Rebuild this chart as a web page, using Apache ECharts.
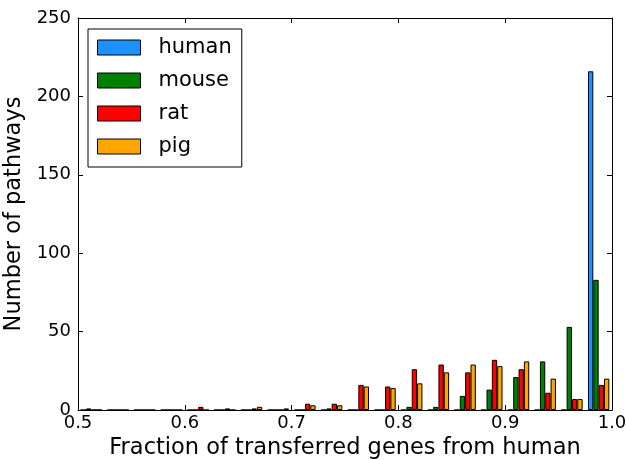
<!DOCTYPE html>
<html>
<head>
<meta charset="utf-8">
<script src="https://cdn.jsdelivr.net/npm/echarts@6/dist/echarts.min.js"></script>
<style>
html,body{margin:0;padding:0;background:#fff;}
#chart{width:626px;height:460px;}
</style>
</head>
<body>
<div id="chart"></div>
<script>
// Histogram bins (lower edges), width 0.025
const binStarts = ['0.500','0.525','0.550','0.575','0.600','0.625','0.650','0.675','0.700','0.725',
                   '0.750','0.775','0.800','0.825','0.850','0.875','0.900','0.925','0.950','0.975'];
const human = [0,0,0,0,0,0,0,0,0,0, 0,0,0,0,0,0,0,0,0,216];
const mouse = [1,0,0,0,0,0,0,0,0,1, 0,0,2,2,9,13,21,31,53,83];
const rat   = [0,0,0,0,2,1,1,0,4,4, 16,15,26,29,24,32,26,11,7,16];
const pig   = [0,0,0,0,0,0,2,1,3,3, 15,14,17,24,29,28,31,20,7,20];
const xTicks = [0.5, 0.6, 0.7, 0.8, 0.9, 1.0];
const yTicks = [0, 50, 100, 150, 200, 250];

const seriesNames = ['human','mouse','rat','pig'];
const seriesColors = ['#1E90FF','#008000','#FF0000','#FFA500'];
const seriesData = [human, mouse, rat, pig];

const FONT = 'DejaVu Sans';
const chart = echarts.init(document.getElementById('chart'), null, {renderer:'canvas'});

const lineStyle = {color:'#000', width:1};
const tickIn = {show:true, inside:true, length:5, lineStyle:{color:'#000', width:1}};

chart.setOption({
  animation:false,
  backgroundColor:'#fff',
  textStyle:{fontFamily:FONT},
  grid:{left:78, right:14, top:18, bottom:50, containLabel:false, outerBoundsMode:'none'},
  legend:{
    orient:'vertical', left:88, top:29,
    data:seriesNames,
    itemWidth:43, itemHeight:15, itemGap:12,
    padding:[8,10,10,9],
    borderColor:'#000', borderWidth:1, borderRadius:0,
    backgroundColor:'#fff',
    icon:'rect',
    itemStyle:{borderColor:'#000', borderWidth:1},
    textStyle:{fontFamily:FONT, fontSize:21, color:'#000', lineHeight:20, padding:[0,0,0,13]}
  },
  xAxis:[
    {type:'category', data:binStarts, show:false, boundaryGap:true},
    {type:'value', position:'bottom', min:xTicks[0], max:xTicks[xTicks.length-1], interval:0.1,
     axisLine:{show:true, onZero:false, lineStyle:lineStyle},
     axisTick:tickIn,
     axisLabel:{show:true, fontFamily:FONT, fontSize:18, color:'#000', margin:4,
                formatter:v=>v.toFixed(1)},
     splitLine:{show:false},
     name:'Fraction of transferred genes from human', nameLocation:'middle', nameGap:25,
     nameTextStyle:{fontFamily:FONT, fontSize:22.5, color:'#000'}},
    {type:'value', position:'top', min:xTicks[0], max:xTicks[xTicks.length-1], interval:0.1,
     axisLine:{show:true, onZero:false, lineStyle:lineStyle},
     axisTick:tickIn, axisLabel:{show:false}, splitLine:{show:false}}
  ],
  yAxis:[
    {type:'value', position:'left', min:yTicks[0], max:yTicks[yTicks.length-1], interval:50,
     axisLine:{show:true, lineStyle:lineStyle},
     axisTick:tickIn,
     axisLabel:{fontFamily:FONT, fontSize:18, color:'#000', margin:7},
     splitLine:{show:false},
     name:'Number of pathways', nameLocation:'middle', nameGap:45, nameRotate:90,
     nameTextStyle:{fontFamily:FONT, fontSize:22.5, color:'#000'}},
    {type:'value', position:'right', min:yTicks[0], max:yTicks[yTicks.length-1], interval:50,
     axisLine:{show:true, lineStyle:lineStyle},
     axisTick:tickIn, axisLabel:{show:false}, splitLine:{show:false}}
  ],
  series: seriesNames.map((n,i)=>({
    name:n, type:'bar', xAxisIndex:0, yAxisIndex:0,
    data:seriesData[i],
    barGap:'0%', barCategoryGap:'20%',
    itemStyle:{color:seriesColors[i], borderColor:'#000', borderWidth:1},
    emphasis:{disabled:true}
  }))
});
</script>
</body>
</html>
